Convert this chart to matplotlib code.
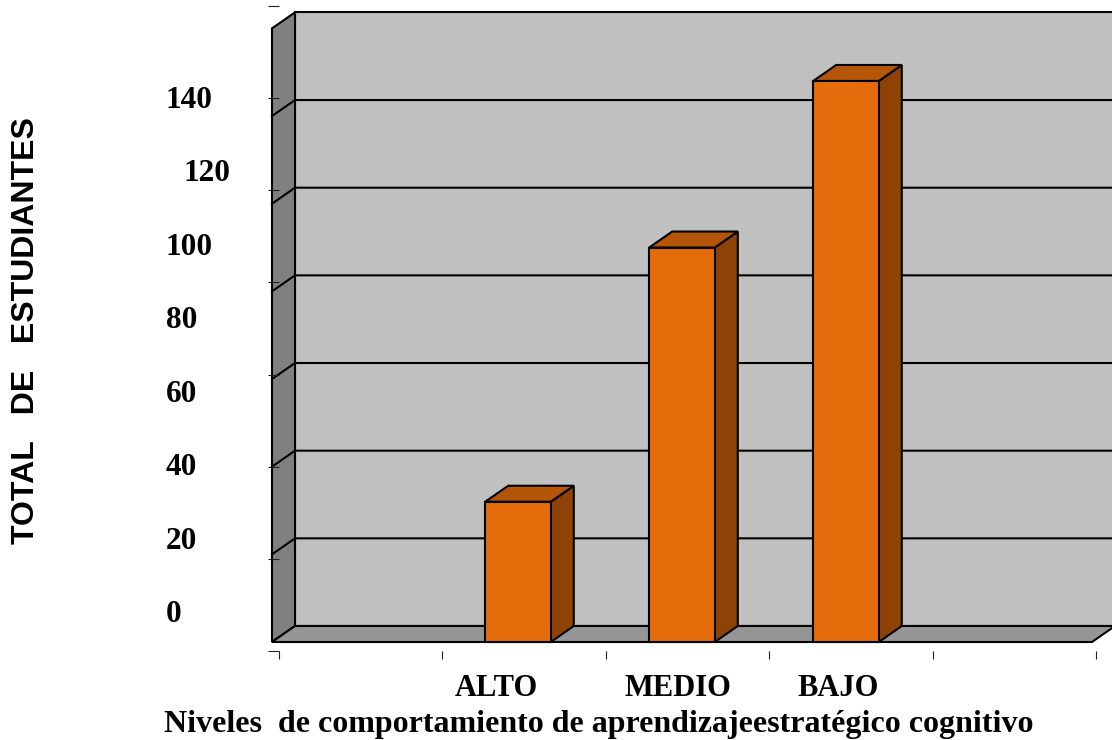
import matplotlib
matplotlib.use("Agg")
import matplotlib.pyplot as plt
from matplotlib.patches import Polygon, Rectangle
from matplotlib.transforms import blended_transform_factory, ScaledTranslation

# ---- data ----
categories = ["ALTO", "MEDIO", "BAJO"]
values = [32, 90, 128]
slots = [1.5, 2.5, 3.5]          # category slot centres on a 0..5 axis
ytick_values = [0, 20, 40, 60, 80, 100, 120, 140]
ytick_labels = ["0", "20", "40", "60", "80", "100", "120", "140"]
ylabel = "TOTAL   DE   ESTUDIANTES"
xlabel = "Niveles  de comportamiento de aprendizajeestratégico cognitivo"

W, H = 1112, 740
fig = plt.figure(figsize=(W / 100, H / 100), dpi=100)


def fr(x0, y0, x1, y1):
    return [x0 / W, 1 - y1 / H, (x1 - x0) / W, (y1 - y0) / H]


YMAX = 140
NSLOT = 5
DX = 23 / 164.0      # depth offset in slot units
DY = 16 / 4.383      # depth offset in value units
LW = 1.5
BW = 0.4

ax = fig.add_axes(fr(272, 642 - YMAX * 4.383, 1092, 642))
ax.set_xlim(0, NSLOT)
ax.set_ylim(0, YMAX)
ax.axis("off")

def poly(pts, fc, z):
    ax.add_patch(Polygon(pts, closed=True, facecolor=fc, edgecolor="black",
                         linewidth=LW, joinstyle="miter", clip_on=False, zorder=z))

# back wall
poly([(DX, DY), (NSLOT + DX, DY), (NSLOT + DX, YMAX + DY), (DX, YMAX + DY)], "#C0C0C0", 1)
# left wall
poly([(0, 0), (DX, DY), (DX, YMAX + DY), (0, YMAX)], "#808080", 1)
# floor
poly([(0, 0), (NSLOT, 0), (NSLOT + DX, DY), (DX, DY)], "#969696", 2)
# gridlines
for v in ytick_values[1:-1]:
    ax.plot([0, DX, NSLOT + DX], [v, v + DY, v + DY], color="black",
            linewidth=LW, clip_on=False, zorder=2, solid_joinstyle="miter")

# bars
for s, v in zip(slots, values):
    x0, x1 = s - BW / 2, s + BW / 2
    poly([(x1, 0), (x1 + DX, DY), (x1 + DX, v + DY), (x1, v)], "#8E4206", 4)
    poly([(x0, v), (x1, v), (x1 + DX, v + DY), (x0 + DX, v + DY)], "#B45508", 4)
    ax.add_patch(Rectangle((x0, 0), BW, v, facecolor="#E46C0A", edgecolor="black",
                           linewidth=LW, joinstyle="miter", clip_on=False, zorder=5))

# tick-mark axis
tax = fig.add_axes(fr(279, 6, 1096, 651))
tax.set_facecolor("none")
tax.set_xlim(0, NSLOT)
tax.set_ylim(0, YMAX)
for sp in tax.spines.values():
    sp.set_visible(False)
tax.set_yticks(ytick_values)
tax.set_xticks(range(NSLOT + 1))
tax.tick_params(axis="y", direction="out", length=8, width=0.8, color="#222222",
                labelleft=False)
tax.tick_params(axis="x", direction="out", length=5.8, width=0.8, color="#222222",
                labelbottom=False)

# value labels axis (labels placed on their own scale as in the reference)
lax = fig.add_axes(fr(166, 107.5, 300, 622.5))
lax.set_ylim(0, YMAX)
lax.axis("off")
btf = blended_transform_factory(lax.transAxes, lax.transData)
for v, lab in zip(ytick_values, ytick_labels):
    tr = btf
    if v == 120:
        tr = btf + ScaledTranslation(0.17, 0, fig.dpi_scale_trans)
    lax.text(0, v, lab, transform=tr, ha="left", va="baseline",
             fontsize=22.5, fontweight="bold", family="Liberation Serif")

# category labels
cat_offsets_px = [-22, -4, -8]
ctf = blended_transform_factory(ax.transData, fig.transFigure)
for s, lab, off in zip(slots, categories, cat_offsets_px):
    ax.text(s, 1 - 696 / H, lab,
            transform=ctf + ScaledTranslation(off / 100, 0, fig.dpi_scale_trans),
            ha="center", va="baseline", fontsize=22, fontweight="bold",
            family="Liberation Serif")

fig.text(164 / W, 1 - 732 / H, xlabel, ha="left", va="baseline", fontsize=23,
         fontweight="bold", family="Liberation Serif")

fig.text(26 / W, 1 - 331 / H, ylabel, rotation=90, ha="center", va="center",
         fontsize=23, fontweight="bold", family="Liberation Sans")

fig.savefig("out.png", dpi=100)
